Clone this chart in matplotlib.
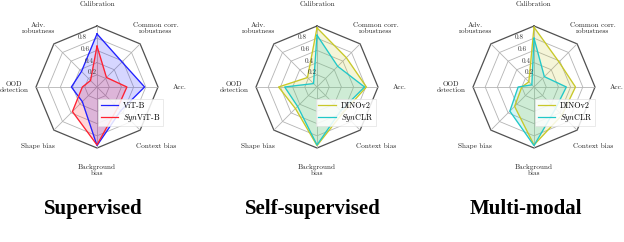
import numpy as np
import matplotlib
matplotlib.use("Agg")
import matplotlib.pyplot as plt

plt.rcParams['mathtext.fontset'] = 'cm'
plt.rcParams['font.family'] = ['cmr10', 'DejaVu Serif']
plt.rcParams['axes.formatter.use_mathtext'] = True

categories = ["Calibration", "Common corr.\nrobustness", "Acc.", "Context bias",
              "Background\nbias", "Shape bias", "OOD\ndetection", "Adv.\nrobustness"]
rticks = [0.2, 0.4, 0.6, 0.8]
rtick_labels = ["0.2", "0.4", "0.6", "0.8"]

# Supervised
vit_b = [0.87, 0.58, 0.78, 0.55, 0.96, 0.34, 0.42, 0.36]
synvit_b = [0.67, 0.22, 0.49, 0.48, 0.95, 0.57, 0.24, 0.15]
# Self-supervised
dinov2_ss = [0.97, 0.68, 0.81, 0.60, 0.96, 0.50, 0.63, 0.22]
synclr_ss = [0.85, 0.48, 0.78, 0.55, 0.95, 0.45, 0.53, 0.08]
# Multi-modal
dinov2_mm = [0.98, 0.58, 0.68, 0.65, 0.95, 0.45, 0.20, 0.12]
synclr_mm = [0.80, 0.24, 0.53, 0.50, 0.96, 0.56, 0.26, 0.05]

panels = [
    ("Supervised", [("ViT-B", vit_b, "#2020ff"), (r"$\mathit{Syn}$ViT-B", synvit_b, "#ff2030")]),
    ("Self-supervised", [("DINOv2", dinov2_ss, "#c8c828"), (r"$\mathit{Syn}$CLR", synclr_ss, "#20c8c8")]),
    ("Multi-modal", [("DINOv2", dinov2_mm, "#c8c828"), (r"$\mathit{Syn}$CLR", synclr_mm, "#20c8c8")]),
]

W, H = 624, 242
fig = plt.figure(figsize=(W / 100, H / 100), dpi=100)
centers = [97, 317, 534]
cy = 87
R = 61
title_x = [93, 313, 526]
legend_left = [0.51, 0.49, 0.51]

n = len(categories)
angles = np.linspace(0, 2 * np.pi, n, endpoint=False)
ang_closed = np.concatenate([angles, angles[:1]])

for i, (title, series) in enumerate(panels):
    ax = fig.add_axes([(centers[i] - R) / W, (H - cy - R) / H, 2 * R / W, 2 * R / H],
                      projection='polar')
    ax.set_theta_offset(np.pi / 2)
    ax.set_theta_direction(-1)
    ax.set_ylim(0, 1.0)
    ax.grid(False)
    ax.set_frame_on(False)
    ax.set_xticks([])
    ax.set_yticks([])
    # octagon grid
    for r in rticks:
        ax.plot(ang_closed, [r] * (n + 1), color="#b4b4b4", lw=0.6, zorder=1)
    ax.plot(ang_closed, [1.0] * (n + 1), color="#505050", lw=0.9, zorder=1, clip_on=False)
    for a in angles:
        ax.plot([a, a], [0, 1.0], color="#b4b4b4", lw=0.6, zorder=1)
    # radial labels
    for r, lab in zip(rticks, rtick_labels):
        ax.text(np.deg2rad(-17), r + 0.05, lab, fontsize=5.2, ha='center', va='center',
                color="#333333", zorder=5)
    # category labels
    for a, lab in zip(angles, categories):
        ax.text(a, 1.36, lab, fontsize=5.2, ha='center', va='center',
                linespacing=1.0, color="#222222")
    handles = []
    for name, vals, col in series:
        v = np.concatenate([vals, vals[:1]])
        h, = ax.plot(ang_closed, v, color=col, lw=0.9, label=name, zorder=3)
        ax.fill(ang_closed, v, color=col, alpha=0.18, zorder=2)
        handles.append(h)
    leg = ax.legend(handles=handles, loc='upper left', bbox_to_anchor=(legend_left[i], 0.40),
                    fontsize=5.8, frameon=True, fancybox=False, handlelength=2.2,
                    borderpad=0.3, labelspacing=0.2, handletextpad=0.6, borderaxespad=0)
    leg.get_frame().set_edgecolor("#dddddd")
    leg.get_frame().set_linewidth(0.5)
    leg.get_frame().set_alpha(0.85)
    fig.text(title_x[i] / W, 1 - 209 / H, title, fontsize=15, fontweight='bold',
             family='Liberation Serif', ha='center', va='center')

fig.savefig("out.png", dpi=100)
